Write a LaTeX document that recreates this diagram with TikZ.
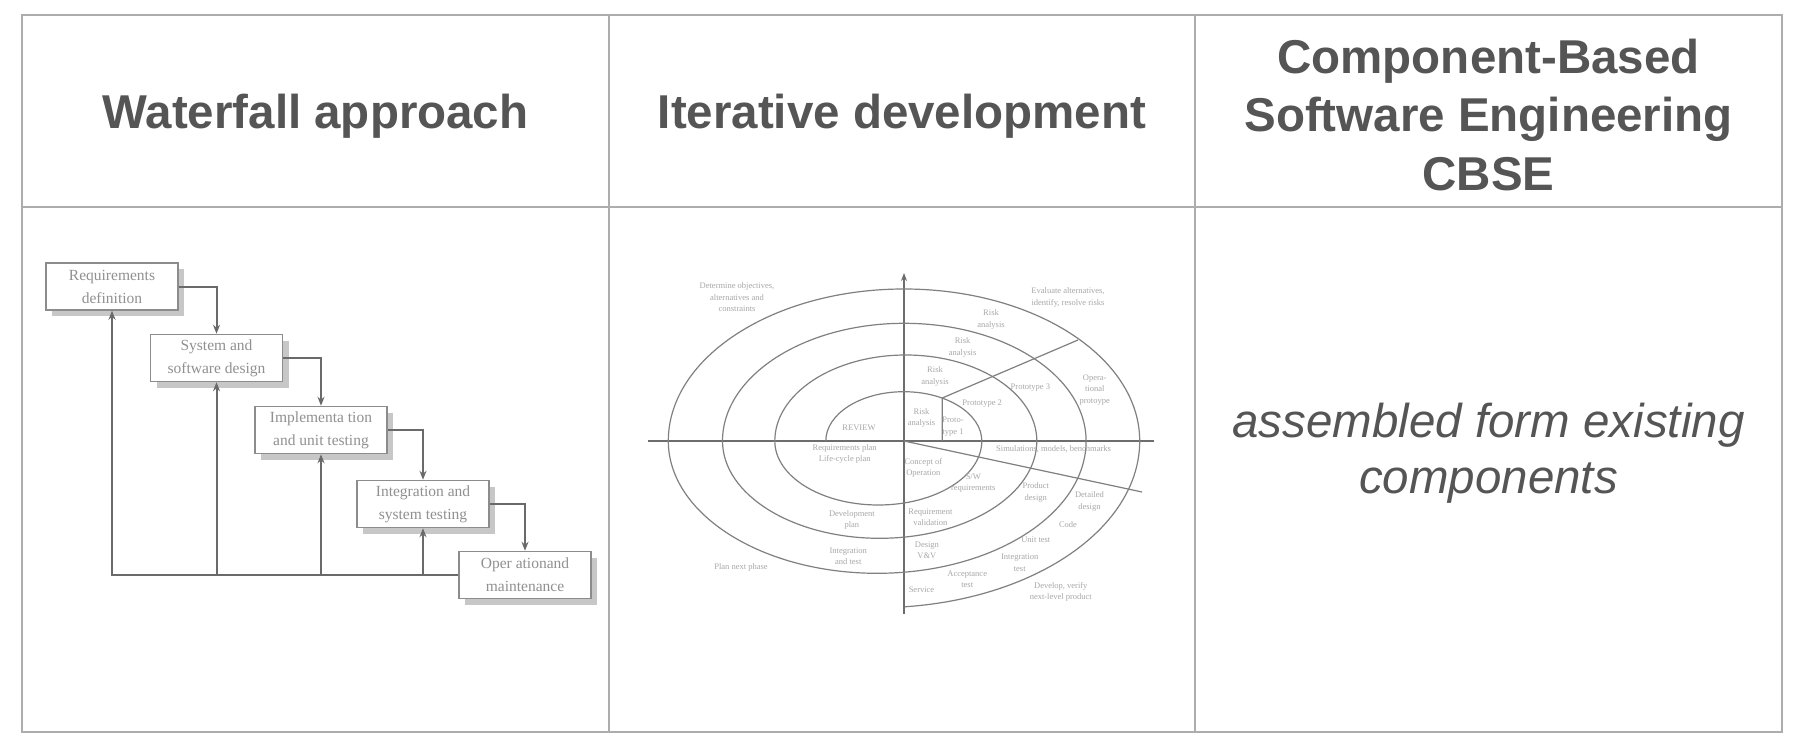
\documentclass[tikz,border=0pt]{standalone}
\usepackage{fontspec}
\setmainfont{Liberation Serif}
\setsansfont{Liberation Sans}
\usetikzlibrary{arrows.meta,shadows}
\definecolor{tblline}{HTML}{ADADAD}
\definecolor{headtxt}{HTML}{555555}
\definecolor{boxtxt}{HTML}{909090}
\definecolor{boxline}{HTML}{8C8C8C}
\definecolor{arrowc}{HTML}{6A6A6A}
\definecolor{spline}{HTML}{808080}
\definecolor{sptxt}{HTML}{A8A8A8}
\begin{document}
\begin{tikzpicture}[x=1pt,y=-1pt,
  tbl/.style={draw=tblline,line width=2pt},
  head/.style={font=\sffamily\bfseries\fontsize{47.5}{58.5}\selectfont,text=headtxt,align=center,inner sep=0pt},
  body/.style={font=\sffamily\itshape\fontsize{47.5}{56}\selectfont,text=headtxt,align=center,inner sep=0pt},
  wbox/.style={draw=boxline,line width=1.5pt,fill=white,minimum width=132pt,minimum height=47pt,inner sep=0pt,align=center,font=\fontsize{15.5}{23}\selectfont,text=boxtxt,general shadow={fill=black!22,shadow xshift=6pt,shadow yshift=-6pt}},
  flow/.style={draw=arrowc,line width=2pt,-{Stealth[length=9pt,width=7pt]}},
  sp/.style={draw=spline,line width=1.2pt},
  axis/.style={draw=spline!85!black,line width=1.8pt},
  lab/.style={font=\fontsize{8.5}{11.5}\selectfont,text=sptxt,align=center,inner sep=0pt}
]
\useasboundingbox (0,0) rectangle (1804,754);
\fill[white] (0,0) rectangle (1804,754);
% table
\draw[tbl] (22,15) rectangle (1782,732);
\draw[tbl] (609,15) -- (609,732);
\draw[tbl] (1195,15) -- (1195,732);
\draw[tbl] (22,207) -- (1782,207);
% headers
\node[head] (h1) at (315.5,116) {Waterfall approach};
\node[head] (h2) at (902,116) {Iterative development};
\node[head] (h3) at (1488.5,115) {Component-Based\\Software Engineering\\CBSE};
\node[body] (cbse) at (1488.5,453) {assembled form existing\\components};
% waterfall
\node[wbox] (b1) at (112,286.5) {Requirements\\definition};
\node[wbox] (b2) at (216.5,358) {System and\\software design};
\node[wbox] (b3) at (321,430) {Implementa tion\\and unit testing};
\node[wbox] (b4) at (423,504) {Integration and\\system testing};
\node[wbox] (b5) at (525,575) {Oper ationand\\maintenance};
\draw[flow] (b1.east) -| (b2.north);
\draw[flow] (b2.east) -| (b3.north);
\draw[flow] (b3.east) -| (b4.north);
\draw[flow] (b4.east) -| (b5.north);
\draw[flow] (b5.west) -| (b1.south);
\draw[flow] (b2.south |- b5.west) -- (b2.south);
\draw[flow] (b3.south |- b5.west) -- (b3.south);
\draw[flow] (b4.south |- b5.west) -- (b4.south);
% spiral
\draw[axis] (648,441) -- (1154,441);
\draw[axis,-{Stealth[length=8pt,width=6pt]}] (904,614) -- (904,273);
\draw[sp] (825.8,441)
  arc[start angle=180,end angle=360,x radius=78,y radius=49.3]
  arc[start angle=0,end angle=180,x radius=103.5,y radius=64]
  arc[start angle=180,end angle=360,x radius=131,y radius=86]
  arc[start angle=0,end angle=180,x radius=157.15,y radius=97.3]
  arc[start angle=180,end angle=360,x radius=181.8,y radius=117.7]
  arc[start angle=0,end angle=180,x radius=208.9,y radius=132.3]
  arc[start angle=180,end angle=360,x radius=235.7,y radius=152]
  arc[start angle=0,end angle=84,x radius=262.4,y radius=166.7];
\draw[sp] (942.2,441) -- (942.2,398) -- (1078,340);
\draw[sp] (904,441) -- (1142,492);
% spiral labels
\node[lab] (l1) at (737,297.5) {Determine objectives,\\alternatives and\\constraints};
\node[lab] (l2) at (1068,297.5) {Evaluate alternatives,\\identify, resolve risks};
\node[lab] (l3) at (991,319.5) {Risk\\analysis};
\node[lab] (l4) at (962.6,347.5) {Risk\\analysis};
\node[lab] (l5) at (935,376.5) {Risk\\analysis};
\node[lab] (l6) at (921.5,418) {Risk\\analysis};
\node[lab] (l7) at (1030.4,387.7) {Prototype 3};
\node[lab] (l8) at (982.2,403.3) {Prototype 2};
\node[lab] (l9) at (953,426.5) {Proto-\\type 1};
\node[lab] (l10) at (1094.7,389.7) {Opera-\\tional\\protoype};
\node[lab] (l11) at (859,427.3) {REVIEW};
\node[lab] (l12) at (844.7,454) {Requirements plan\\Life-cycle plan};
\node[lab] (l13) at (923.3,468) {Concept of\\Operation};
\node[lab] (l14) at (973.3,483) {S/W\\requirements};
\node[lab] (l15) at (1053.6,449.3) {Simulations, models, benchmarks};
\node[lab] (l16) at (1035.8,492.7) {Product\\design};
\node[lab] (l17) at (1089.4,501.7) {Detailed\\design};
\node[lab] (l18) at (1068,525) {Code};
\node[lab] (l19) at (1035.8,539.3) {Unit test};
\node[lab] (l20) at (1019.7,562.7) {Integration\\test};
\node[lab] (l21) at (967.2,579) {Acceptance\\test};
\node[lab] (l22) at (921.5,589.3) {Service};
\node[lab] (l23) at (1060.8,591.7) {Develop, verify\\next-level product};
\node[lab] (l24) at (851.9,520) {Development\\plan};
\node[lab] (l25) at (930.4,517) {Requirement\\validation};
\node[lab] (l26) at (926.9,550.3) {Design\\V\&V};
\node[lab] (l27) at (848.3,556) {Integration\\and test};
\node[lab] (l28) at (741,567.7) {Plan next phase};
\end{tikzpicture}
\end{document}
